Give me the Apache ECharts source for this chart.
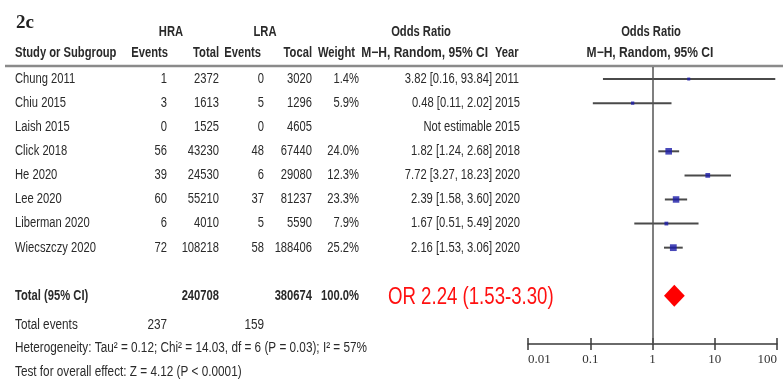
<!DOCTYPE html>
<html>
<head>
<meta charset="utf-8">
<script src="https://cdn.jsdelivr.net/npm/echarts@6/dist/echarts.min.js"></script>
<style>
  html, body { margin: 0; padding: 0; background: #fff; }
  #chart { width: 783px; height: 382px; }
</style>
</head>
<body>
<div id="chart"></div>
<script>
// Forest plot: HRA vs LRA, Mantel-Haenszel random-effects odds ratios
const studies   = ['Chung 2011', 'Chiu 2015', 'Laish 2015', 'Click 2018', 'He 2020', 'Lee 2020', 'Liberman 2020', 'Wiecszczy 2020'];
const hraEvents = [1, 3, 0, 56, 39, 60, 6, 72];
const hraTotal  = [2372, 1613, 1525, 43230, 24530, 55210, 4010, 108218];
const lraEvents = [0, 5, 0, 48, 6, 37, 5, 58];
const lraTotal  = [3020, 1296, 4605, 67440, 29080, 81237, 5590, 188406];
const weights   = [1.4, 5.9, null, 24.0, 12.3, 23.3, 7.9, 25.2];
const oddsRatio = [3.82, 0.48, null, 1.82, 7.72, 2.39, 1.67, 2.16];
const ciLower   = [0.16, 0.11, null, 1.24, 3.27, 1.58, 0.51, 1.53];
const ciUpper   = [93.84, 2.02, null, 2.68, 18.23, 3.60, 5.49, 3.06];
const years     = [2011, 2015, 2015, 2018, 2020, 2020, 2020, 2020];
const pooled    = [2.24, 1.53, 3.30];   // OR, lower, upper
const axisTicks = ['0.01', '0.1', '1', '10', '100'];

// Arial-metric sans, squeezed horizontally to a narrow face
const FONT = '"Liberation Sans", Arial, sans-serif';
const SX = 0.8;
const INK = '#2a2a2a';
const TOTAL_ROW = 9;

const sum = a => a.reduce((s, v) => s + v, 0);
const f2 = v => v.toFixed(2);

// column anchors (pixels)
const COL = { name: 15, ev1: 167, tot1: 219, ev2: 264, tot2: 312, wt: 359, or: 492, year: 495 };

function txt(x, y, s, align, opt, sx) {
  return {
    type: 'text', x: x, y: y, scaleX: sx || SX, scaleY: 1,
    style: Object.assign({
      x: 0, y: 0, text: s, textAlign: align || 'left', textVerticalAlign: 'middle',
      font: '14px ' + FONT, fill: INK
    }, opt || {})
  };
}

const chart = echarts.init(document.getElementById('chart'), null, { renderer: 'canvas' });

const rowData = studies.map((s, i) => [1, i]);
const ciData = [];
studies.forEach((s, i) => { if (oddsRatio[i] != null) ciData.push([ciLower[i], ciUpper[i], i]); });
const pointData = [];
studies.forEach((s, i) => { if (oddsRatio[i] != null) pointData.push([oddsRatio[i], i, weights[i]]); });

const tickStyle = { color: '#3a3a3a', width: 1.5 };

const option = {
  animation: false,
  backgroundColor: '#fff',
  grid: { left: 528, right: 6, top: 67, bottom: 38, containLabel: false, outerBoundsMode: 'none' },
  xAxis: [{
    type: 'log', logBase: 10, min: 0.01, max: 100,
    axisLine: { show: true, onZero: false, lineStyle: { color: '#3a3a3a', width: 1.5 } },
    axisTick: { show: true, length: 6, lineStyle: tickStyle },
    axisLabel: {
      show: true, margin: 9, color: '#333',
      fontFamily: '"Liberation Serif", "DejaVu Serif", serif', fontSize: 13,
      alignMinLabel: 'left', alignMaxLabel: 'right',
      formatter: (v) => {
        const k = Math.round(Math.log10(v)) + 2;
        return axisTicks[k] || '';
      }
    },
    splitLine: { show: false }
  }, {
    type: 'log', logBase: 10, min: 0.01, max: 100, position: 'bottom',
    axisLine: { show: false, onZero: false },
    axisTick: { show: true, inside: true, length: 6, lineStyle: tickStyle },
    axisLabel: { show: false },
    splitLine: { show: false }
  }],
  yAxis: { type: 'value', inverse: true, min: -0.5, max: 11, show: false },
  series: [
    {
      // confidence intervals
      type: 'custom', xAxisIndex: 0,
      data: ciData,
      encode: { x: [0, 1], y: 2 },
      renderItem: (params, api) => {
        const a = api.coord([api.value(0), api.value(2)]);
        const b = api.coord([api.value(1), api.value(2)]);
        return { type: 'line', shape: { x1: a[0], y1: a[1], x2: b[0], y2: b[1] },
                 style: { stroke: '#4a4a4a', lineWidth: 2 } };
      },
      z: 2
    },
    {
      // study point estimates, area by weight
      type: 'scatter', xAxisIndex: 0,
      data: pointData,
      symbol: 'rect',
      symbolSize: (v) => Math.max(3, 1.35 * Math.sqrt(v[2])),
      itemStyle: { color: '#1c1ca8' },
      z: 3,
      markLine: {
        silent: true, symbol: ['none', 'none'],
        label: { show: false },
        lineStyle: { color: '#555', width: 1.5, type: 'solid' },
        data: [{ xAxis: 1 }]
      }
    },
    {
      // pooled estimate diamond
      type: 'custom', xAxisIndex: 0,
      data: [[pooled[0], pooled[1], pooled[2], TOTAL_ROW]],
      encode: { x: [0, 1, 2], y: 3 },
      renderItem: (params, api) => {
        const r = api.value(3);
        const c = api.coord([api.value(0), r]);
        const lo = api.coord([api.value(1), r]);
        const hi = api.coord([api.value(2), r]);
        const h = 11;
        return { type: 'polygon',
                 shape: { points: [[lo[0], c[1]], [c[0], c[1] - h], [hi[0], c[1]], [c[0], c[1] + h]] },
                 style: { fill: '#ff0000' } };
      },
      z: 4
    },
    {
      // study table rows
      type: 'custom', xAxisIndex: 0,
      data: rowData,
      encode: { x: 0, y: 1 },
      clip: false,
      renderItem: (params, api) => {
        const i = params.dataIndex;
        const y = api.coord([1, api.value(1)])[1];
        const orText = oddsRatio[i] == null ? 'Not estimable'
          : f2(oddsRatio[i]) + ' [' + f2(ciLower[i]) + ', ' + f2(ciUpper[i]) + ']';
        const kids = [
          txt(COL.name, y, studies[i]),
          txt(COL.ev1, y, String(hraEvents[i]), 'right'),
          txt(COL.tot1, y, String(hraTotal[i]), 'right'),
          txt(COL.ev2, y, String(lraEvents[i]), 'right'),
          txt(COL.tot2, y, String(lraTotal[i]), 'right'),
          txt(COL.or, y, orText, 'right'),
          txt(COL.year, y, String(years[i]))
        ];
        if (weights[i] != null) kids.push(txt(COL.wt, y, weights[i].toFixed(1) + '%', 'right'));
        return { type: 'group', children: kids };
      }
    },
    {
      // totals and summary statistics
      type: 'custom', xAxisIndex: 0,
      data: [[1, TOTAL_ROW]],
      encode: { x: 0, y: 1 },
      clip: false,
      renderItem: (params, api) => {
        const y0 = api.coord([1, TOTAL_ROW])[1];
        const y1 = api.coord([1, TOTAL_ROW + 1.2])[1];
        const y2 = api.coord([1, TOTAL_ROW + 2.17])[1];
        const y3 = api.coord([1, TOTAL_ROW + 3.17])[1];
        const bold = { font: 'bold 14px ' + FONT };
        const small = { font: '14px ' + FONT };
        const sxs = 0.84;
        return { type: 'group', children: [
          txt(COL.name, y0, 'Total (95% CI)', 'left', bold),
          txt(COL.tot1, y0, String(sum(hraTotal)), 'right', bold),
          txt(COL.tot2, y0, String(sum(lraTotal)), 'right', bold),
          txt(COL.wt, y0, '100.0%', 'right', bold),
          txt(388, y0 + 2, 'OR ' + f2(pooled[0]) + ' (' + f2(pooled[1]) + '-' + f2(pooled[2]) + ')', 'left',
              { font: '23px ' + FONT, fill: '#ff1010' }, 0.81),
          txt(COL.name, y1, 'Total events', 'left', small, sxs),
          txt(COL.ev1, y1, String(sum(hraEvents)), 'right', small, sxs),
          txt(COL.ev2, y1, String(sum(lraEvents)), 'right', small, sxs),
          txt(COL.name, y2, 'Heterogeneity: Tau² = 0.12; Chi² = 14.03, df = 6 (P = 0.03); I² = 57%', 'left', small, sxs),
          txt(COL.name, y3, 'Test for overall effect: Z = 4.12 (P < 0.0001)', 'left', small, sxs)
        ] };
      }
    }
  ],
  graphic: [
    txt(16, 23, '2c', 'left', { font: 'bold 19px "Liberation Serif", "DejaVu Serif", serif', fill: '#222' }, 1),
    txt(171, 32, 'HRA', 'center', { font: 'bold 14px ' + FONT }),
    txt(265, 32, 'LRA', 'center', { font: 'bold 14px ' + FONT }),
    txt(421, 32, 'Odds Ratio', 'center', { font: 'bold 14px ' + FONT }),
    txt(651, 32, 'Odds Ratio', 'center', { font: 'bold 14px ' + FONT }),
    txt(COL.name, 53, 'Study or Subgroup', 'left', { font: 'bold 14px ' + FONT }),
    txt(168, 53, 'Events', 'right', { font: 'bold 14px ' + FONT }),
    txt(COL.tot1, 53, 'Total', 'right', { font: 'bold 14px ' + FONT }),
    txt(261, 53, 'Events', 'right', { font: 'bold 14px ' + FONT }),
    txt(COL.tot2, 53, 'Tocal', 'right', { font: 'bold 14px ' + FONT }),
    txt(355, 53, 'Weight', 'right', { font: 'bold 14px ' + FONT }),
    txt(488, 53, 'M\u2212H, Random, 95% CI', 'right', { font: 'bold 14px ' + FONT }, 0.86),
    txt(COL.year, 53, 'Year', 'left', { font: 'bold 14px ' + FONT }),
    txt(650, 53, 'M\u2212H, Random, 95% CI', 'center', { font: 'bold 14px ' + FONT }, 0.86),
    { type: 'line', shape: { x1: 5, y1: 66, x2: 783, y2: 66 }, style: { stroke: '#8a8a8a', lineWidth: 2.5 } }
  ]
};

chart.setOption(option);
</script>
</body>
</html>
